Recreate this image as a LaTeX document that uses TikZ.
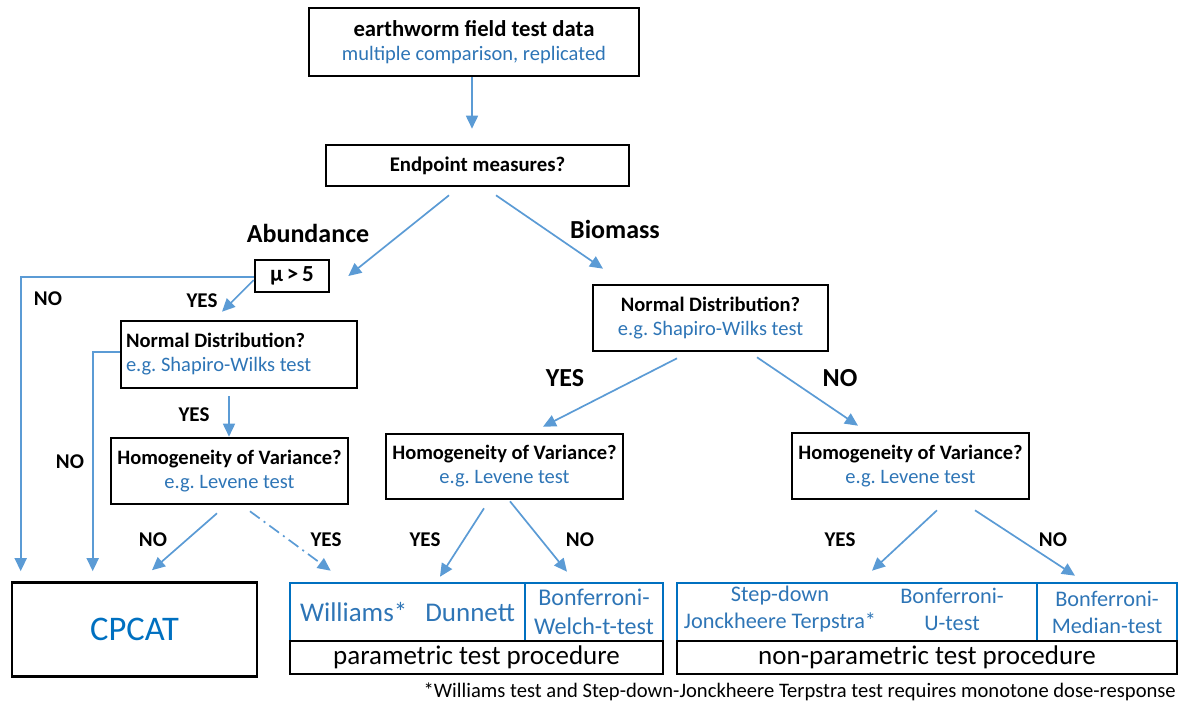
\documentclass[tikz,border=0pt]{standalone}
\usepackage{fontspec}
\setmainfont{Carlito}
\usetikzlibrary{arrows.meta}
\definecolor{arrowblue}{HTML}{5B9BD5}
\definecolor{textblue}{HTML}{2E75B6}
\definecolor{boxblue}{HTML}{0070C0}
\newcommand{\fsz}[2]{\fontsize{#1}{#2}\selectfont}
\frenchspacing

\begin{document}
\begin{tikzpicture}[x=1pt,y=-1pt,
		box/.style={draw=black,line width=2.6pt,align=center,inner sep=0pt},
		bluebox/.style={draw=boxblue,line width=2.6pt,text=textblue,align=center,inner sep=0pt},
		arr/.style={draw=arrowblue,line width=1.7pt,-{Triangle[length=13pt,width=12pt]}},
		answer/.style={font=\bfseries\fsz{21}{24}},
		branch/.style={font=\bfseries\fsz{26}{30}}]
					\useasboundingbox (0,0) rectangle (1179,704);

					% Question boxes
					\node[box,minimum width=330,minimum height=68,font=\fsz{20.5}{24}] (data) at (474,42)
						{{\bfseries\fsz{22.7}{24}earthworm field test data}\\\textcolor{textblue}{multiple comparison, replicated}};
					\node[box,minimum width=303,minimum height=41,font=\bfseries\fsz{20.8}{24}] (ep) at (477.5,165.5) {Endpoint measures?};
					\node[box,minimum width=74,minimum height=32,font=\bfseries\fsz{23}{24}] (mu) at (292,276) {μ\,>\,5};
					\node[box,minimum width=236,minimum height=67,text width=226,align=flush left,font=\fsz{20.5}{24}] (ndl) at (239,354.5)
						{\textbf{Normal Distribution?}\\\textcolor{textblue}{e.g. Shapiro-Wilks test}};
					\node[box,minimum width=237,minimum height=66,font=\fsz{20.5}{24}] (hvl) at (229.5,471)
						{\textbf{Homogeneity of Variance?}\\\textcolor{textblue}{e.g. Levene test}};
					\node[box,minimum width=235,minimum height=66,font=\fsz{20.5}{24}] (ndr) at (710.5,318)
						{\textbf{Normal Distribution?}\\\textcolor{textblue}{e.g. Shapiro-Wilks test}};
					\node[box,minimum width=237,minimum height=65,font=\fsz{20.5}{24}] (hvm) at (504.5,466.5)
						{\textbf{Homogeneity of Variance?}\\\textcolor{textblue}{e.g. Levene test}};
					\node[box,minimum width=237,minimum height=66,font=\fsz{20.5}{24}] (hvr) at (910.5,466)
						{\textbf{Homogeneity of Variance?}\\\textcolor{textblue}{e.g. Levene test}};

					% Test procedures
					\node[box,minimum width=245,minimum height=94,text=boxblue,font=\fsz{34.5}{36}] (cp) at (134.5,629.5) {CPCAT};
					\node[bluebox,minimum width=235,minimum height=58,font=\fsz{27}{30}] (wd) at (407.5,612) {Williams*\hspace{18pt}Dunnett};
					\node[bluebox,minimum width=138,minimum height=58,font=\fsz{24}{29}] (bw) at (594,612) {Bonferroni-\\Welch-t-test};
					\node[box,minimum width=373,minimum height=33,font=\fsz{27}{30}] (pp) at (476.5,657.5) {parametric test procedure};
					\node[bluebox,minimum width=360,minimum height=58] (sj) at (857,612) {};
					\node[text=textblue,align=center,font=\fsz{22.3}{27}] (sdj) at (780,609.5) {Step-down\\Jonckheere Terpstra*};
					\node[text=textblue,align=center,font=\fsz{22.3}{27}] (bu) at (952,609.5) {Bonferroni-\\U-test};
					\node[bluebox,minimum width=140,minimum height=58,font=\fsz{22.3}{27}] (bm) at (1107,612) {Bonferroni-\\Median-test};
					\node[box,minimum width=500,minimum height=33,font=\fsz{27}{30}] (np) at (927,657.5) {non-parametric test procedure};
					\node[anchor=east,inner sep=0pt,font=\fsz{20.6}{22}] (fn) at (1176,692)
						{*Williams test and Step-down-Jonckheere Terpstra test requires monotone dose-response};

					% Connectors
					\draw[arr] ([xshift=-2pt]data.south) -- ([xshift=-5.5pt,yshift=15pt]ep.north);
					\draw[arr] ([xshift=-28.5pt,yshift=-8pt]ep.south) -- ([xshift=18pt]mu.east);
					\draw[arr] ([xshift=18.5pt,yshift=-8pt]ep.south) -- ([xshift=-107.5pt,yshift=15pt]ndr.north);
					\draw[arr] ([yshift=-1pt]mu.west) -| ([xshift=10pt,yshift=10pt]cp.north west);
					\draw[arr] ([yshift=-4pt]mu.west) -- ([xshift=-17pt,yshift=8pt]ndl.north);
					\draw[arr] ([yshift=2.5pt]ndl.west) -| ([xshift=82pt,yshift=10pt]cp.north west);
					\draw[arr] ([xshift=-10pt,yshift=-7pt]ndl.south) -- ([xshift=-0.5pt]hvl.north);
					\draw[arr] ([xshift=-12.5pt,yshift=-8pt]hvl.south) -- ([xshift=17.5pt,yshift=11pt]cp.north);
					\draw[arr,dash pattern=on 12pt off 5pt on 2pt off 5pt] ([xshift=20.5pt,yshift=-6pt]hvl.south) -- ([xshift=42pt,yshift=11pt]wd.north west);
					\draw[arr] ([xshift=-33.5pt,yshift=-6pt]ndr.south) -- ([xshift=38.5pt,yshift=6pt]hvm.north);
					\draw[arr] ([xshift=46.5pt,yshift=-5pt]ndr.south) -- ([xshift=-52.5pt,yshift=6pt]hvr.north);
					\draw[arr] ([xshift=-20.5pt,yshift=-8pt]hvm.south) -- ([xshift=32.5pt,yshift=5pt]wd.north);
					\draw[arr] ([xshift=5.5pt,yshift=-1pt]hvm.south) -- ([xshift=-27pt,yshift=10pt]bw.north);
					\draw[arr] ([xshift=26.5pt,yshift=-10pt]hvr.south) -- ([xshift=15pt,yshift=11pt]sj.north);
					\draw[arr] ([xshift=64.5pt,yshift=-10pt]hvr.south) -- ([xshift=-32pt,yshift=6pt]bm.north);

					% Branch labels
					\node[branch] (abund) at (308,233) {Abundance};
					\node[branch] (biom) at (615,229) {Biomass};
					\node[answer] (no1) at (48,299) {NO};
					\node[answer] (yes1) at (202,301) {YES};
					\node[answer] (yes2) at (194,415) {YES};
					\node[answer] (no2) at (70,462) {NO};
					\node[answer] (no3) at (153,540) {NO};
					\node[answer] (yes3) at (326,540) {YES};
					\node[branch] (yes4) at (565,378) {YES};
					\node[branch] (no4) at (840,378) {NO};
					\node[answer] (yes5) at (425,540) {YES};
					\node[answer] (no5) at (580,540) {NO};
					\node[answer] (yes6) at (840,540) {YES};
					\node[answer] (no6) at (1053,540) {NO};
\end{tikzpicture}
\end{document}
